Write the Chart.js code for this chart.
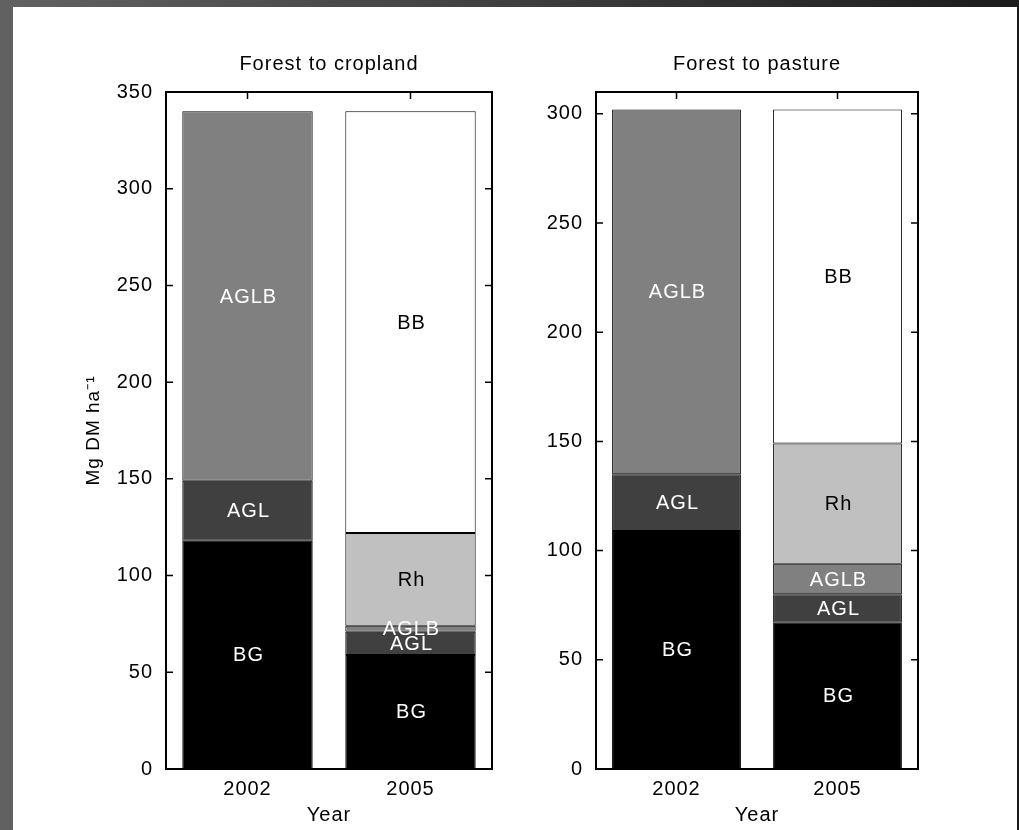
<!DOCTYPE html>
<html>
<head>
<meta charset="utf-8">
<script src="https://cdn.jsdelivr.net/npm/chart.js@4.4.1/dist/chart.umd.min.js"></script>
<style>
  html, body { margin: 0; padding: 0; width: 1019px; height: 830px; overflow: hidden;
    background: linear-gradient(to right, #626262, #1c1c1c); }
  #sheet { position: absolute; left: 13px; top: 7px; width: 1004px; height: 823px; background: #fff; }
  #crop { position: absolute; left: 0; top: 0; }
  #past { position: absolute; left: 540px; top: 0; }
</style>
</head>
<body>
<div id="sheet"></div>
<canvas id="crop" width="540" height="830"></canvas>
<canvas id="past" width="479" height="830"></canvas>
<script>
// Categories and stacked layers (Mg DM ha-1), bottom to top
const years = ['2002', '2005'];
const layerNames = ['BG', 'AGL', 'AGLB', 'Rh', 'BB'];

// Forest to cropland
const cropBG   = [118, 59];
const cropAGL  = [31, 12];
const cropAGLB = [191, 3];
const cropRh   = [null, 48];
const cropBB   = [null, 218];

// Forest to pasture
const pastBG   = [109, 67];
const pastAGL  = [26, 13];
const pastAGLB = [167, 14];
const pastRh   = [null, 55];
const pastBB   = [null, 153];

// Y tick labels
const cropTicks = [0, 50, 100, 150, 200, 250, 300, 350];
const pastTicks = [0, 50, 100, 150, 200, 250, 300];

// Styling
const fills = ['#000000', '#404040', '#808080', '#c0c0c0', '#ffffff'];
const labelColors = ['#ffffff', '#ffffff', '#ffffff', '#000000', '#000000'];
const FAMILY = '"Liberation Sans", Arial, Helvetica, sans-serif';
const SPACING = '1px';
const TICK = 7;

const spacingPlugin = {
  id: 'spacing',
  beforeUpdate(chart) { chart.ctx.letterSpacing = SPACING; },
  beforeDraw(chart) { chart.ctx.letterSpacing = SPACING; }
};

// Axis box with inward tick marks on all four sides
const framePlugin = {
  id: 'frame',
  afterDatasetsDraw(chart) {
    const { ctx, chartArea: a, scales: { x, y } } = chart;
    ctx.save();
    ctx.strokeStyle = '#000';
    ctx.lineWidth = 1.5;
    ctx.beginPath();
    y.ticks.forEach(t => {
      const py = y.getPixelForValue(t.value);
      ctx.moveTo(a.left, py); ctx.lineTo(a.left + TICK, py);
      ctx.moveTo(a.right, py); ctx.lineTo(a.right - TICK, py);
    });
    x.ticks.forEach((t, i) => {
      const px = x.getPixelForTick(i);
      ctx.moveTo(px, a.top); ctx.lineTo(px, a.top + TICK);
      ctx.moveTo(px, a.bottom); ctx.lineTo(px, a.bottom - TICK);
    });
    ctx.stroke();
    ctx.lineWidth = 2;
    ctx.strokeRect(a.left, a.top, a.right - a.left, a.bottom - a.top);
    ctx.restore();
  }
};

// Layer names written in the middle of each stacked segment
const segmentLabelPlugin = {
  id: 'segmentLabels',
  afterDatasetsDraw(chart) {
    const { ctx } = chart;
    ctx.save();
    ctx.letterSpacing = SPACING;
    ctx.font = '20px ' + FAMILY;
    ctx.textAlign = 'center';
    ctx.textBaseline = 'middle';
    chart.data.datasets.forEach((ds, i) => {
      const meta = chart.getDatasetMeta(i);
      meta.data.forEach((bar, j) => {
        if (ds.data[j] == null) return;
        const p = bar.getProps(['x', 'y', 'base'], true);
        ctx.fillStyle = labelColors[i];
        ctx.fillText(ds.label, p.x + 1, (p.y + p.base) / 2 + 1);
      });
    });
    ctx.restore();
  }
};

function makeChart(id, series, yTicks, cfg) {
  const font = { family: FAMILY, size: 20 };
  return new Chart(document.getElementById(id), {
    type: 'bar',
    data: {
      labels: years,
      datasets: layerNames.map((name, i) => ({
        label: name,
        data: series[i],
        backgroundColor: fills[i],
        borderColor: '#000',
        borderWidth: 1,
        borderSkipped: false,
        barPercentage: 0.8,
        categoryPercentage: 1.0
      }))
    },
    options: {
      responsive: false,
      animation: false,
      devicePixelRatio: 1,
      layout: { padding: { left: cfg.padLeft, right: cfg.padRight, top: 0, bottom: 0 } },
      plugins: {
        legend: { display: false },
        tooltip: { enabled: false },
        title: {
          display: true, text: cfg.title, color: '#000', fullSize: false,
          font: { family: FAMILY, size: 20, weight: 'normal' },
          padding: { top: 52, bottom: 16 }
        }
      },
      scales: {
        x: {
          stacked: true,
          grid: { display: false, drawTicks: false },
          border: { display: false },
          ticks: { color: '#000', font, padding: 8 },
          title: { display: true, text: 'Year', color: '#000', font, padding: { top: 0, bottom: 3 } },
          afterFit(s) { s.height = 61; }
        },
        y: {
          stacked: true,
          min: yTicks[0],
          max: cfg.yMax,
          grid: { display: false, drawTicks: false },
          border: { display: false },
          afterBuildTicks(s) { s.ticks = yTicks.map(v => ({ value: v })); },
          ticks: { color: '#000', font, padding: 13 },
          title: {
            display: !!cfg.yTitle, text: cfg.yTitle || '', color: '#000',
            font: { family: FAMILY, size: 19 }, padding: { top: 12, bottom: 0 }
          },
          afterFit(s) { s.width = cfg.yWidth; }
        }
      }
    },
    plugins: [spacingPlugin, framePlugin, segmentLabelPlugin]
  });
}

makeChart('crop', [cropBG, cropAGL, cropAGLB, cropRh, cropBB], cropTicks, {
  title: 'Forest to cropland', yMax: 350, yTitle: 'Mg DM ha\u207B\u00B9',
  padLeft: 70, yWidth: 96, padRight: 48
});
makeChart('past', [pastBG, pastAGL, pastAGLB, pastRh, pastBB], pastTicks, {
  title: 'Forest to pasture', yMax: 310,
  padLeft: 0, yWidth: 56, padRight: 101
});
</script>
</body>
</html>
